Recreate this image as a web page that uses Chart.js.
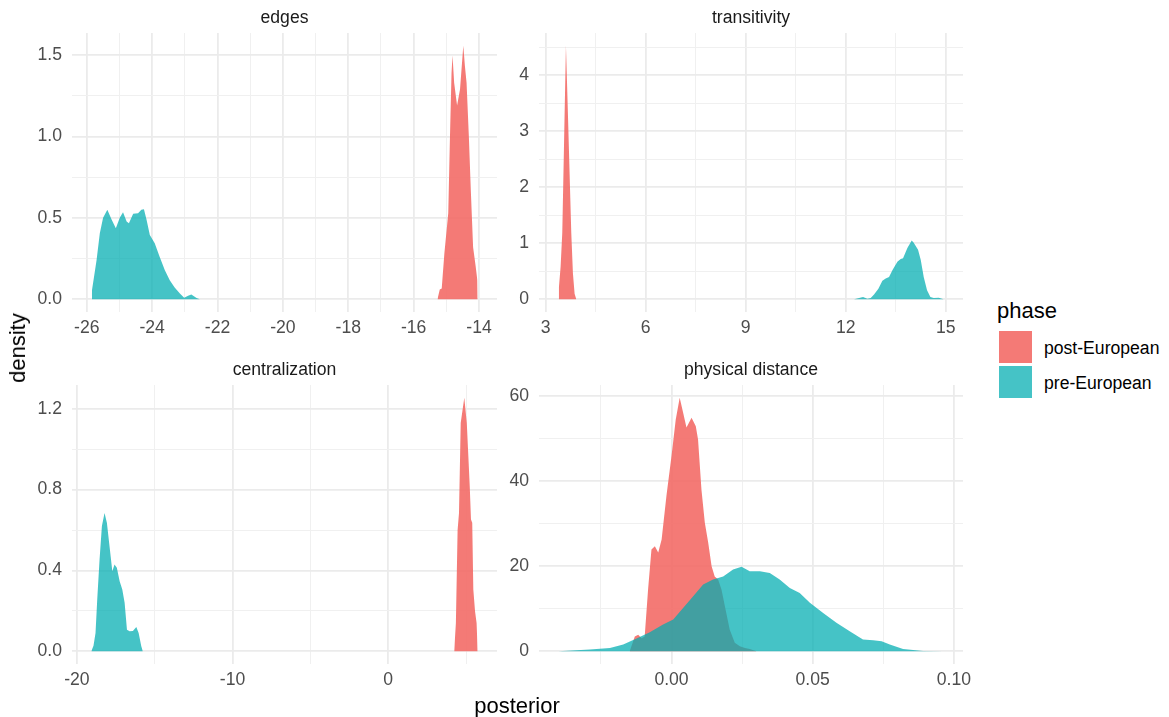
<!DOCTYPE html>
<html>
<head>
<meta charset="utf-8">
<script src="https://cdn.jsdelivr.net/npm/chart.js@4"></script>
<style>
  html, body { margin: 0; padding: 0; background: #fff; }
  #wrap { position: relative; width: 1169px; height: 717px; overflow: hidden; font-family: "Liberation Sans", Arial, sans-serif; }
  #wrap canvas { position: absolute; }
  .strip { position: absolute; height: 20px; line-height: 20px; font-size: 17.6px; color: #1a1a1a; text-align: center; }
  .axt { position: absolute; font-size: 22px; color: #000; white-space: nowrap; }
  .key { position: absolute; width: 33px; height: 32px; }
  .klab { position: absolute; font-size: 17.6px; color: #000; height: 22px; line-height: 22px; }
</style>
</head>
<body>
<div id="wrap">
  <canvas id="c0"></canvas>
  <canvas id="c1"></canvas>
  <canvas id="c2"></canvas>
  <canvas id="c3"></canvas>
</div>
<script>
// facet titles and legend
const panelTitles = ['edges', 'transitivity', 'centralization', 'physical distance'];
const phases = ['post-European', 'pre-European'];
const phaseColors = ['rgba(243,108,103,0.9)', 'rgba(0,173,177,0.73)'];

// edges
const edgesPostX = [-15.27, -15.20, -15.14, -15.06, -14.99, -14.94, -14.89, -14.84, -14.81, -14.76, -14.67, -14.58, -14.48, -14.43, -14.38, -14.31, -14.25, -14.18, -14.10, -14.05, -14.04];
const edgesPostY = [0, 0.06, 0.066, 0.28, 0.426, 0.53, 0.98, 1.39, 1.496, 1.33, 1.19, 1.29, 1.557, 1.43, 1.33, 1.00, 0.67, 0.32, 0.2, 0.117, 0];
const edgesPreX = [-25.86, -25.84, -25.70, -25.60, -25.50, -25.37, -25.24, -25.11, -24.99, -24.89, -24.78, -24.71, -24.58, -24.43, -24.33, -24.25, -24.17, -24.07, -23.92, -23.77, -23.61, -23.46, -23.31, -23.15, -23.02, -22.90, -22.80, -22.64, -22.54];
const edgesPreY = [0, 0.055, 0.24, 0.405, 0.50, 0.55, 0.49, 0.436, 0.50, 0.535, 0.477, 0.467, 0.525, 0.529, 0.55, 0.553, 0.488, 0.395, 0.344, 0.261, 0.179, 0.117, 0.072, 0.035, 0.01, 0.022, 0.029, 0.008, 0];
const edgesXTicks = [-26, -24, -22, -20, -18, -16, -14];
const edgesXLabels = ['-26', '-24', '-22', '-20', '-18', '-16', '-14'];
const edgesYTicks = [0, 0.5, 1, 1.5];
const edgesYLabels = ['0.0', '0.5', '1.0', '1.5'];

// transitivity
const transPostX = [3.38, 3.40, 3.45, 3.50, 3.55, 3.61, 3.67, 3.73, 3.77, 3.82, 3.87, 3.92];
const transPostY = [0, 0.22, 0.58, 1.19, 2.69, 4.53, 3.30, 2.03, 1.19, 0.46, 0.10, 0];
const transPreX = [12.25, 12.40, 12.52, 12.65, 12.75, 12.85, 12.98, 13.10, 13.20, 13.30, 13.40, 13.55, 13.65, 13.72, 13.85, 13.98, 14.04, 14.17, 14.25, 14.34, 14.44, 14.54, 14.64, 14.79, 14.94];
const transPreY = [0, 0.024, 0.042, 0.012, 0.024, 0.085, 0.19, 0.33, 0.37, 0.40, 0.52, 0.67, 0.72, 0.735, 0.917, 1.05, 1.01, 0.886, 0.705, 0.40, 0.16, 0.042, 0.024, 0.03, 0];
const transXTicks = [3, 6, 9, 12, 15];
const transXLabels = ['3', '6', '9', '12', '15'];
const transYTicks = [0, 1, 2, 3, 4];
const transYLabels = ['0', '1', '2', '3', '4'];

// centralization
const centPostX = [4.24, 4.35, 4.46, 4.55, 4.66, 4.89, 5.05, 5.15, 5.24, 5.32, 5.40, 5.47, 5.58, 5.68, 5.75];
const centPostY = [0, 0.14, 0.60, 0.685, 1.13, 1.255, 1.13, 0.966, 0.817, 0.652, 0.636, 0.306, 0.198, 0.14, 0];
const centPreX = [-19.07, -18.93, -18.80, -18.69, -18.54, -18.39, -18.22, -18.07, -17.90, -17.72, -17.58, -17.43, -17.25, -17.08, -16.93, -16.78, -16.61, -16.40, -16.18, -16.03, -15.86, -15.76];
const centPreY = [0, 0.028, 0.091, 0.256, 0.454, 0.62, 0.685, 0.636, 0.52, 0.396, 0.43, 0.413, 0.347, 0.306, 0.24, 0.107, 0.099, 0.10, 0.12, 0.091, 0.025, 0];
const centXTicks = [-20, -10, 0];
const centXLabels = ['-20', '-10', '0'];
const centYTicks = [0, 0.4, 0.8, 1.2];
const centYLabels = ['0.0', '0.4', '0.8', '1.2'];

// physical distance
const physPostX = [-0.0148, -0.0130, -0.0118, -0.0106, -0.0095, -0.0083, -0.0071, -0.0059, -0.0047, -0.0035, -0.0018, 0.0000, 0.0015, 0.0029, 0.0041, 0.0053, 0.0071, 0.0086, 0.0094, 0.0106, 0.0118, 0.0130, 0.0142, 0.0153, 0.0165, 0.0177, 0.0189, 0.0206, 0.0224, 0.0242, 0.0260, 0.0277, 0.0301];
const physPostY = [0, 3.5, 3.9, 3.1, 3.5, 14.5, 23.9, 24.7, 23.2, 26.3, 36.5, 45.9, 54.5, 59.6, 56.1, 52.6, 54.9, 52.9, 49.8, 38.0, 30.2, 25.5, 20.0, 17.6, 16.9, 14.5, 10.6, 5.1, 2.0, 1.2, 0.8, 0.56, 0];
const physPreX = [-0.0401, -0.0289, -0.0218, -0.0171, -0.0124, -0.0077, -0.0030, 0.0006, 0.0041, 0.0076, 0.0112, 0.0147, 0.0183, 0.0218, 0.0248, 0.0277, 0.0313, 0.0348, 0.0383, 0.0419, 0.0454, 0.0490, 0.0537, 0.0584, 0.0631, 0.0678, 0.0714, 0.0744, 0.0773, 0.0820, 0.0891, 0.0964];
const physPreY = [0, 0.4, 0.8, 1.6, 3.0, 4.5, 6.3, 7.5, 10.2, 12.9, 15.7, 16.9, 17.6, 19.2, 19.9, 18.8, 18.8, 18.4, 16.9, 14.9, 13.7, 11.4, 9.0, 6.7, 4.7, 2.75, 2.6, 2.35, 1.6, 0.56, 0.1, 0];
const physXTicks = [0, 0.05, 0.1];
const physXLabels = ['0.00', '0.05', '0.10'];
const physYTicks = [0, 20, 40, 60];
const physYLabels = ['0', '20', '40', '60'];

const FONT = '"Liberation Sans", Arial, sans-serif';

// plot area boxes (left, top, right, bottom) in page pixels
const panels = [
  { box: [72, 33, 497, 312], canvasLeft: 0, post: [edgesPostX, edgesPostY], pre: [edgesPreX, edgesPreY], xt: [edgesXTicks, edgesXLabels], yt: [edgesYTicks, edgesYLabels] },
  { box: [539, 33, 963, 312], canvasLeft: 505, post: [transPostX, transPostY], pre: [transPreX, transPreY], xt: [transXTicks, transXLabels], yt: [transYTicks, transYLabels] },
  { box: [72, 385, 497, 664], canvasLeft: 0, post: [centPostX, centPostY], pre: [centPreX, centPreY], xt: [centXTicks, centXLabels], yt: [centYTicks, centYLabels] },
  { box: [539, 385, 963, 664], canvasLeft: 505, post: [physPostX, physPostY], pre: [physPreX, physPreY], xt: [physXTicks, physXLabels], yt: [physYTicks, physYLabels] }
];

function toPoints(xs, ys) {
  return xs.map((x, i) => ({ x: x, y: ys[i] }));
}

// major ticks with labels plus ggplot-style minor lines half way between
function buildTicks(majors, labels, min, max) {
  const step = majors[1] - majors[0];
  const out = [];
  majors.forEach((v, i) => { if (v >= min && v <= max) out.push({ value: v, txt: labels[i], minorLine: false }); });
  for (let k = -1; k < majors.length; k++) {
    const v = majors[0] + (k + 0.5) * step;
    if (v >= min && v <= max) out.push({ value: v, txt: '', minorLine: true });
  }
  out.sort((a, b) => a.value - b.value);
  return out;
}

const wrap = document.getElementById('wrap');
const PAD_TOP = 10, PAD_RIGHT = 8, X_AXIS_H = 36;

panels.forEach((p, idx) => {
  const [L, T, R, B] = p.box;
  const allX = p.post[0].concat(p.pre[0]);
  const allY = p.post[1].concat(p.pre[1]);
  const xmin = Math.min(...allX), xmax = Math.max(...allX);
  const ymax = Math.max(...allY);
  const xpad = (xmax - xmin) * 0.05, ypad = ymax * 0.05;
  const yAxisW = L - p.canvasLeft;

  const cv = document.getElementById('c' + idx);
  const w = R + PAD_RIGHT - p.canvasLeft;
  const h = (B - T) + PAD_TOP + X_AXIS_H;
  cv.width = w; cv.height = h;
  cv.style.left = p.canvasLeft + 'px';
  cv.style.top = (T - PAD_TOP) + 'px';
  cv.style.width = w + 'px'; cv.style.height = h + 'px';

  const gridOpts = {
    color: (ctx) => (ctx.tick && ctx.tick.minorLine) ? '#f0f0f0' : '#ebebeb',
    lineWidth: (ctx) => (ctx.tick && ctx.tick.minorLine) ? 1 : 1.8,
    drawTicks: false
  };
  const tickFont = { family: FONT, size: 17.6 };

  new Chart(cv, {
    type: 'line',
    data: {
      datasets: [
        { label: phases[1], data: toPoints(p.pre[0], p.pre[1]), backgroundColor: phaseColors[1] },
        { label: phases[0], data: toPoints(p.post[0], p.post[1]), backgroundColor: phaseColors[0] }
      ].map(d => Object.assign(d, { fill: 'origin', borderWidth: 0, borderColor: 'transparent', pointRadius: 0, tension: 0 }))
    },
    options: {
      responsive: false,
      animation: false,
      devicePixelRatio: 1,
      layout: { padding: { top: PAD_TOP, right: PAD_RIGHT, left: 0, bottom: 0 } },
      plugins: { legend: { display: false }, tooltip: { enabled: false } },
      scales: {
        x: {
          type: 'linear',
          min: xmin - xpad,
          max: xmax + xpad,
          border: { display: false },
          grid: gridOpts,
          afterBuildTicks: (s) => { s.ticks = buildTicks(p.xt[0], p.xt[1], s.min, s.max); },
          afterFit: (s) => { s.height = X_AXIS_H; s.paddingLeft = 0; s.paddingRight = 0; },
          ticks: {
            autoSkip: false, maxRotation: 0, padding: 6, color: '#4d4d4d', font: tickFont,
            callback: (v, i, ticks) => ticks[i].txt
          }
        },
        y: {
          type: 'linear',
          min: -ypad,
          max: ymax + ypad,
          border: { display: false },
          grid: gridOpts,
          afterBuildTicks: (s) => { s.ticks = buildTicks(p.yt[0], p.yt[1], s.min, s.max); },
          afterFit: (s) => { s.width = yAxisW; s.paddingTop = 0; s.paddingBottom = 0; },
          ticks: {
            autoSkip: false, padding: 10, color: '#4d4d4d', font: tickFont,
            callback: (v, i, ticks) => ticks[i].txt
          }
        }
      }
    }
  });

  const st = document.createElement('div');
  st.className = 'strip';
  st.textContent = panelTitles[idx];
  st.style.left = L + 'px';
  st.style.width = (R - L) + 'px';
  st.style.top = (T - 26) + 'px';
  wrap.appendChild(st);
});

// axis titles
const yt = document.createElement('div');
yt.className = 'axt';
yt.textContent = 'density';
yt.style.left = '18px';
yt.style.top = '348px';
yt.style.transform = 'translate(-50%, -50%) rotate(-90deg)';
wrap.appendChild(yt);

const xt = document.createElement('div');
xt.className = 'axt';
xt.textContent = 'posterior';
xt.style.left = '517px';
xt.style.top = '706px';
xt.style.transform = 'translate(-50%, -50%)';
wrap.appendChild(xt);

// legend
const lt = document.createElement('div');
lt.className = 'axt';
lt.textContent = 'phase';
lt.style.left = '997px';
lt.style.top = '298px';
wrap.appendChild(lt);
phases.forEach((name, i) => {
  const k = document.createElement('div');
  k.className = 'key';
  k.style.left = '999px';
  k.style.top = (331 + i * 35) + 'px';
  k.style.background = phaseColors[i];
  wrap.appendChild(k);
  const l = document.createElement('div');
  l.className = 'klab';
  l.textContent = name;
  l.style.left = '1044px';
  l.style.top = (337 + i * 35) + 'px';
  wrap.appendChild(l);
});
</script>
</body>
</html>
